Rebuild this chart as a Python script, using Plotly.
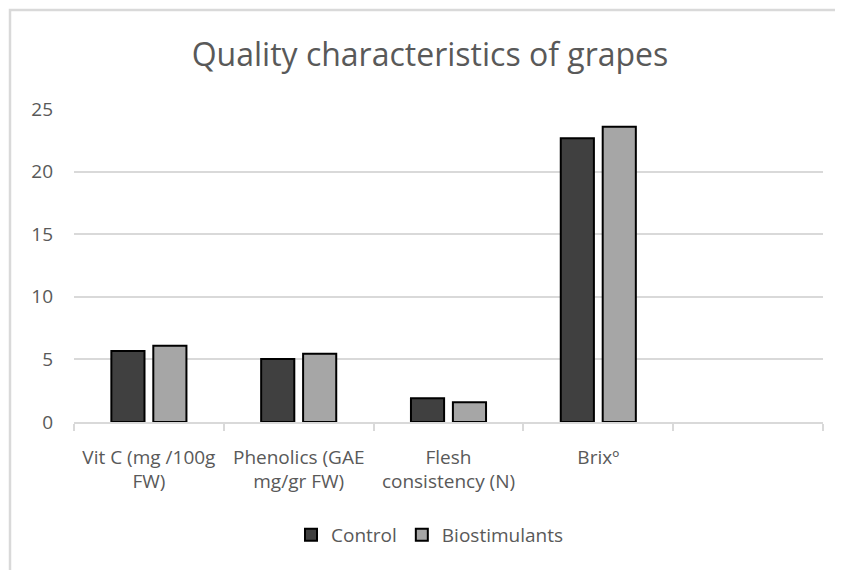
import plotly.graph_objects as go

categories = ["Vit C (mg /100g<br>FW)", "Phenolics (GAE<br>mg/gr FW)", "Flesh<br>consistency (N)", "Brixº", " "]
control = [5.67, 5.03, 1.89, 22.66, None]
biostimulants = [6.10, 5.46, 1.57, 23.59, None]
y_ticks = [0, 5, 10, 15, 20, 25]

FONT = "Open Sans"
GRAY_TXT = "#595959"
GRID = "#d9d9d9"

# the page body has an 8px margin; work in reference pixel coordinates
O = 8
W, H = 843 - O, 570 - O
L, T = 74 - O, 109 - O
R = (843 - 823)
B = (570 - 422)
pw, ph = W - L - R, H - T - B

def px_x(p):
    return (p - O - L) / pw

def px_y(p):
    return (H - B - (p - O)) / ph

fig = go.Figure()
fig.add_trace(go.Bar(name="Control", x=categories, y=control,
                     marker=dict(color="#404040", line=dict(color="#000000", width=2))))
fig.add_trace(go.Bar(name="Biostimulants", x=categories, y=biostimulants,
                     marker=dict(color="#a6a6a6", line=dict(color="#000000", width=2))))

fig.update_layout(
    width=W, height=H,
    margin=dict(l=L, r=R, t=T, b=B, autoexpand=False),
    paper_bgcolor="white", plot_bgcolor="white",
    barmode="group", bargap=0.44, bargroupgap=0.21,
    title=dict(text="Quality characteristics of grapes", x=(430 - O) / W, xanchor="center",
               y=1 - (55 - O) / H, yanchor="middle", xref="container", yref="container",
               font=dict(family=FONT, size=32, color=GRAY_TXT)),
    font=dict(family=FONT, color=GRAY_TXT),
    showlegend=True,
    legend=dict(orientation="h", x=px_x(430), xanchor="center", y=px_y(535), yanchor="middle",
                font=dict(family=FONT, size=19, color=GRAY_TXT), itemwidth=30,
                traceorder="normal"),
    xaxis=dict(type="category", range=[-0.5, 4.5], tickson="boundaries", ticks="outside",
               ticklen=7, tickcolor=GRID, tickwidth=1.5, showline=True, linecolor=GRID,
               linewidth=1.5, showgrid=False, tickfont=dict(family=FONT, size=19, color=GRAY_TXT),
               ticklabelstandoff=17, fixedrange=True),
    yaxis=dict(range=[0, 25], tickvals=y_ticks, showgrid=True, gridcolor=GRID, gridwidth=1.5,
               zeroline=False, showline=False, ticks="",
               tickfont=dict(family=FONT, size=19, color=GRAY_TXT), ticklabelstandoff=20,
               fixedrange=True),
    shapes=[dict(type="rect", xref="paper", yref="paper",
                 x0=px_x(10), x1=px_x(870), y0=px_y(600), y1=px_y(10),
                 line=dict(color=GRID, width=2.5), fillcolor="rgba(0,0,0,0)", layer="below")],
)

fig.write_html("out.html")
